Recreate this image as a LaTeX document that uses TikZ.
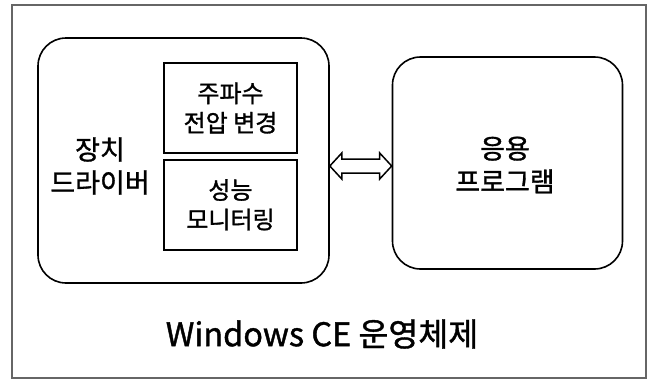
\documentclass[tikz,border=0pt]{standalone}
\usepackage{fontspec}
\setmainfont{Noto Sans CJK KR}[FakeBold=1.2]
\usetikzlibrary{positioning,calc}

\begin{document}
\begin{tikzpicture}[x=1pt, y=-1pt,
  rbox/.style={draw, rounded corners=28pt, line width=1.6pt},
  sbox/.style={draw, line width=1.8pt, minimum width=133pt, minimum height=90pt, align=center, font=\fontsize{24}{29.5}\selectfont},
  txt/.style={align=center, font=\fontsize{27}{33}\selectfont},
  dblarrow/.style={draw, line width=1.5pt, line join=miter}
]
\useasboundingbox (0,0) rectangle (653,383);

% Frame
\draw[black!60, line width=2.5pt] (12,5) rectangle (646,378);

% Device driver block
\node[rbox, minimum width=291pt, minimum height=245pt] (drv) at (183.5,160.5) {};
\node[txt] (drvtxt) at (100,166) {장치\\드라이버};
\node[sbox] (freq) at (230.5,108) {주파수\\전압 변경};
\node[sbox, below=5pt of freq] (perf) {성능\\모니터링};

% Application
\node[rbox, minimum width=230pt, minimum height=212pt] (app) at (507.5,163) {};
\node[txt] (apptxt) at (505,165) {응용\\프로그램};

% Arrow
\coordinate (mid) at (0,166);
\coordinate (l) at (drv.east |- mid);
\coordinate (r) at (app.west |- mid);
\draw[dblarrow] (l) -- ($(l)+(12,-13)$) -- ($(l)+(12,-7)$) -- ($(r)+(-12,-7)$) -- ($(r)+(-12,-13)$)
  -- (r) -- ($(r)+(-12,13)$) -- ($(r)+(-12,7)$) -- ($(l)+(12,7)$) -- ($(l)+(12,13)$) -- cycle;

% OS label
\node[font=\fontsize{32.5}{34}\selectfont] (os) at (322,334) {Windows CE 운영체제};

\end{tikzpicture}
\end{document}
